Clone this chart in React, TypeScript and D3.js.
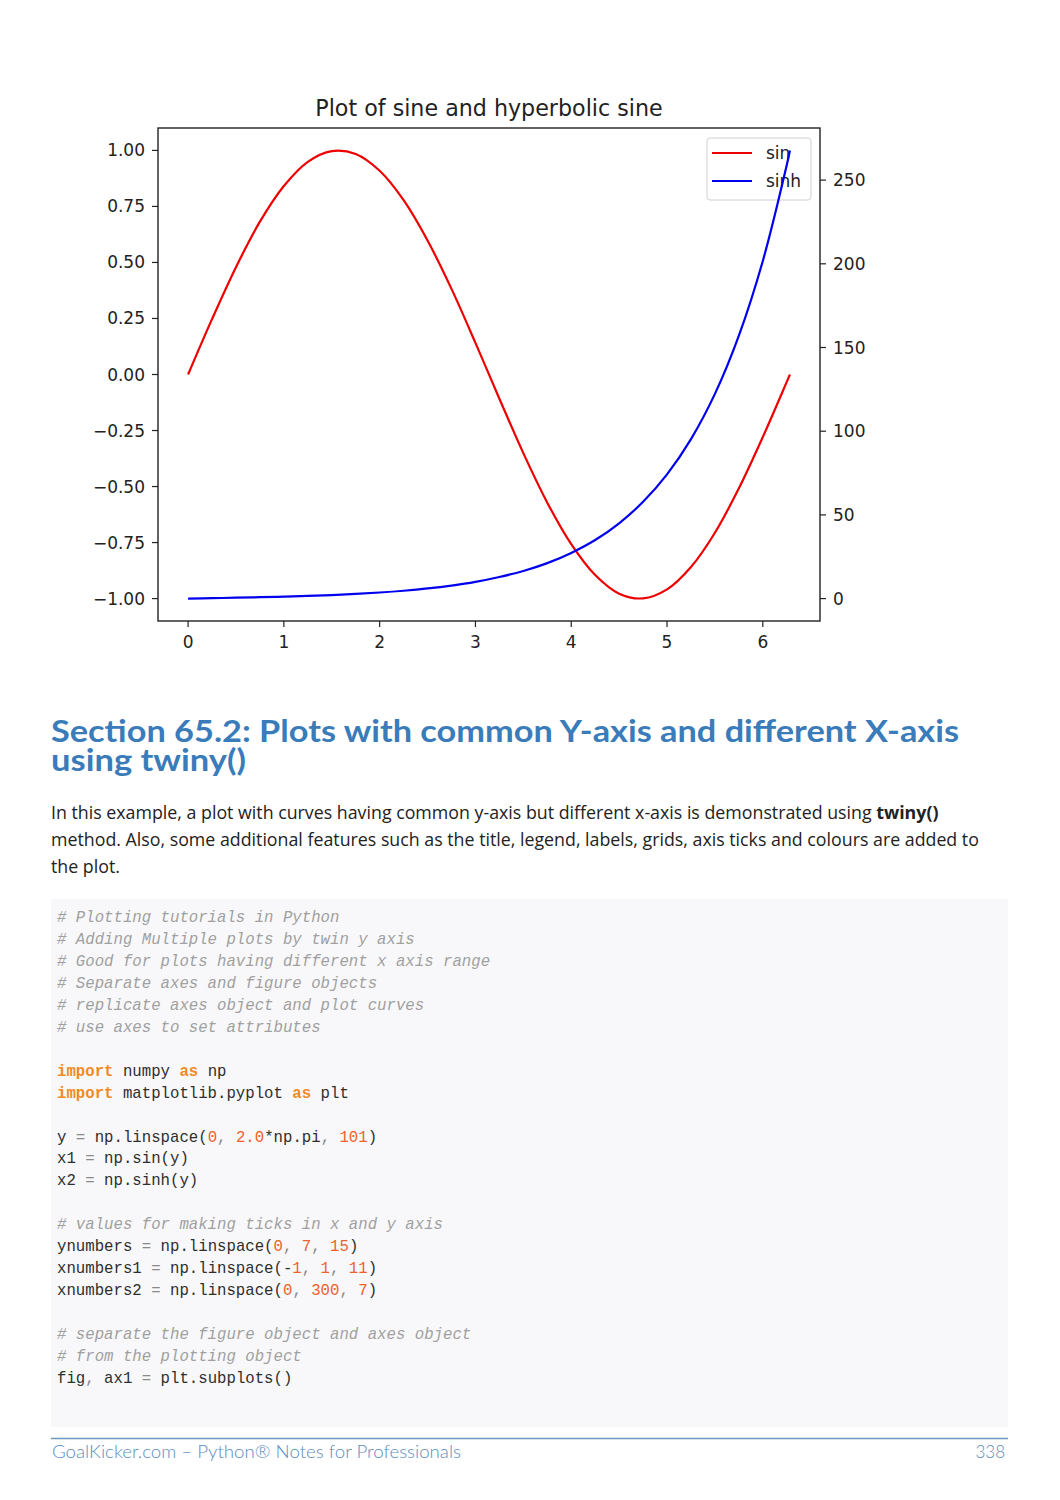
import React from "react";
import * as d3 from "d3";

// ---- data ----
const xs = [0, 0.25, 0.5, 0.75, 1.0, 1.25, 1.5, 1.75, 2.0, 2.25, 2.5, 2.75, 3.0, 3.25, 3.5, 3.75, 4.0, 4.25, 4.5, 4.75, 5.0, 5.25, 5.5, 5.75, 6.0, 6.25, 6.283];
const sinValues = [0, 0.247, 0.479, 0.682, 0.841, 0.949, 0.997, 0.984, 0.909, 0.778, 0.598, 0.382, 0.141, -0.108, -0.351, -0.572, -0.757, -0.895, -0.978, -0.999, -0.959, -0.859, -0.706, -0.508, -0.279, -0.033, 0];
const sinhValues = [0, 0.25, 0.52, 0.82, 1.18, 1.6, 2.13, 2.79, 3.63, 4.69, 6.05, 7.79, 10.0, 12.9, 16.5, 21.2, 27.3, 35.0, 45.0, 57.8, 74.2, 95.3, 122.3, 157.1, 201.7, 259.0, 267.7];
const xTicks = [0, 1, 2, 3, 4, 5, 6];
const leftTicks = [-1.0, -0.75, -0.5, -0.25, 0.0, 0.25, 0.5, 0.75, 1.0];
const rightTicks = [0, 50, 100, 150, 200, 250];
const seriesNames = ["sin", "sinh"];
const seriesColors = ["#ee0000", "#0000ee"];
const chartTitle = "Plot of sine and hyperbolic sine";

const headingLines = ["Section 65.2: Plots with common Y-axis and different X-axis", "using twiny()"];
const bodyLine1 = "In this example, a plot with curves having common y-axis but different x-axis is demonstrated using ";
const bodyLine1Bold = "twiny()";
const bodyLine2 = "method. Also, some additional features such as the title, legend, labels, grids, axis ticks and colours are added to";
const bodyLine3 = "the plot.";

type Tok = [string, string];
const codeLines: Tok[][] = [
  [["# Plotting tutorials in Python", "c"]],
  [["# Adding Multiple plots by twin y axis", "c"]],
  [["# Good for plots having different x axis range", "c"]],
  [["# Separate axes and figure objects", "c"]],
  [["# replicate axes object and plot curves", "c"]],
  [["# use axes to set attributes", "c"]],
  [],
  [["import", "k"], [" numpy ", "p"], ["as", "k"], [" np", "p"]],
  [["import", "k"], [" matplotlib.pyplot ", "p"], ["as", "k"], [" plt", "p"]],
  [],
  [["y ", "p"], ["=", "o"], [" np.linspace(", "p"], ["0", "n"], [", ", "o"], ["2.0", "n"], ["*np.pi", "p"], [", ", "o"], ["101", "n"], [")", "p"]],
  [["x1 ", "p"], ["=", "o"], [" np.sin(y)", "p"]],
  [["x2 ", "p"], ["=", "o"], [" np.sinh(y)", "p"]],
  [],
  [["# values for making ticks in x and y axis", "c"]],
  [["ynumbers ", "p"], ["=", "o"], [" np.linspace(", "p"], ["0", "n"], [", ", "o"], ["7", "n"], [", ", "o"], ["15", "n"], [")", "p"]],
  [["xnumbers1 ", "p"], ["=", "o"], [" np.linspace(-", "p"], ["1", "n"], [", ", "o"], ["1", "n"], [", ", "o"], ["11", "n"], [")", "p"]],
  [["xnumbers2 ", "p"], ["=", "o"], [" np.linspace(", "p"], ["0", "n"], [", ", "o"], ["300", "n"], [", ", "o"], ["7", "n"], [")", "p"]],
  [],
  [["# separate the figure object and axes object", "c"]],
  [["# from the plotting object", "c"]],
  [["fig", "p"], [", ", "o"], ["ax1 ", "p"], ["=", "o"], [" plt.subplots()", "p"]],
];
const footerLeft = "GoalKicker.com – Python® Notes for Professionals";
const footerRight = "338";

const tokColor: Record<string, string> = { c: "#a0a0a0", k: "#f08a24", n: "#f0602c", p: "#2e2e2e", o: "#8a8a8a" };

export default function App() {
  const W = 1060, H = 1500;
  const L = 158, R = 820, T = 128, B = 621;
  const x = d3.scaleLinear().domain([-0.314, 6.597]).range([L, R]);
  const yL = d3.scaleLinear().domain([-1.1, 1.1]).range([B, T]);
  const yR = d3.scaleLinear().domain([-13.387, 281.13]).range([B, T]);
  const lineL = d3.line<number>().x((_, i) => x(xs[i])).y((d) => yL(d)).curve(d3.curveCatmullRom);
  const lineR = d3.line<number>().x((_, i) => x(xs[i])).y((d) => yR(d)).curve(d3.curveCatmullRom);
  const fmtL = (v: number) => (v < 0 ? "\u2212" : "") + Math.abs(v).toFixed(2);
  const tickFont = "DejaVu Sans";
  const lgR = R - 9, lgT = T + 10, lgW = 104, lgH = 62;

  return (
    <div style={{ position: "absolute", left: 0, top: 0 }}>
      <svg width={W} height={H} style={{ display: "block", background: "#fff" }}>
        <rect x={0} y={0} width={W} height={H} fill="#fff" />
        {/* chart title */}
        <text x={(L + R) / 2} y={116} textAnchor="middle" fontFamily={tickFont} fontSize={22.2} fill="#222">{chartTitle}</text>
        {/* sin line */}
        <path d={lineL(sinValues) || ""} fill="none" stroke={seriesColors[0]} strokeWidth={2.2} />
        {/* legend (belongs to first axes) */}
        <g>
          <rect x={lgR - lgW} y={lgT} width={lgW} height={lgH} rx={3} fill="#fff" fillOpacity={0.8} stroke="#d0d0d0" strokeWidth={1} />
          {seriesNames.map((n, i) => (
            <g key={n}>
              <line x1={lgR - lgW + 5} x2={lgR - lgW + 45} y1={lgT + 15 + i * 28} y2={lgT + 15 + i * 28} stroke={seriesColors[i]} strokeWidth={2.2} />
              <text x={lgR - lgW + 59} y={lgT + 21 + i * 28} fontFamily={tickFont} fontSize={17} fill="#222">{n}</text>
            </g>
          ))}
        </g>
        {/* sinh line on twin axis */}
        <path d={lineR(sinhValues) || ""} fill="none" stroke={seriesColors[1]} strokeWidth={2.2} />
        {/* spines */}
        <rect x={L} y={T} width={R - L} height={B - T} fill="none" stroke="#222" strokeWidth={1.4} />
        {/* left ticks */}
        {leftTicks.map((v) => (
          <g key={"l" + v}>
            <line x1={L - 6} x2={L} y1={yL(v)} y2={yL(v)} stroke="#222" strokeWidth={1.2} />
            <text x={L - 13} y={yL(v) + 6} textAnchor="end" fontFamily={tickFont} fontSize={17} fill="#222">{fmtL(v)}</text>
          </g>
        ))}
        {/* right ticks */}
        {rightTicks.map((v) => (
          <g key={"r" + v}>
            <line x1={R} x2={R + 6} y1={yR(v)} y2={yR(v)} stroke="#222" strokeWidth={1.2} />
            <text x={R + 13} y={yR(v) + 6} textAnchor="start" fontFamily={tickFont} fontSize={17} fill="#222">{v}</text>
          </g>
        ))}
        {/* bottom ticks */}
        {xTicks.map((v) => (
          <g key={"b" + v}>
            <line x1={x(v)} x2={x(v)} y1={B} y2={B + 6} stroke="#222" strokeWidth={1.2} />
            <text x={x(v)} y={B + 27} textAnchor="middle" fontFamily={tickFont} fontSize={17} fill="#222">{v}</text>
          </g>
        ))}

        {/* heading */}
        <text x={51} y={742} fontFamily="Lato" fontWeight={700} fontSize={30} fill="#3a7cb9" textLength={908} lengthAdjust="spacingAndGlyphs">{headingLines[0]}</text>
        <text x={51} y={771} fontFamily="Lato" fontWeight={700} fontSize={30} fill="#3a7cb9" textLength={195} lengthAdjust="spacingAndGlyphs">{headingLines[1]}</text>

        {/* body */}
        <text x={51} y={819} fontFamily="Open Sans" fontSize={17.8} fill="#222" style={{ whiteSpace: "pre" }}>
          {bodyLine1}<tspan fontWeight={700}>{bodyLine1Bold}</tspan>
        </text>
        <text x={51} y={846} fontFamily="Open Sans" fontSize={17.8} fill="#222">{bodyLine2}</text>
        <text x={51} y={873} fontFamily="Open Sans" fontSize={17.8} fill="#222">{bodyLine3}</text>

        {/* code block */}
        <rect x={51} y={899} width={957} height={528} fill="#f8f8fa" />
        {codeLines.map((toks, i) => (
          <text key={"c" + i} x={57} y={922 + i * 21.95} fontFamily="Liberation Mono" fontSize={15.7} style={{ whiteSpace: "pre" }}>
            {toks.map((t, j) => (
              <tspan key={j} fill={tokColor[t[1]]} fontStyle={t[1] === "c" ? "italic" : "normal"} fontWeight={t[1] === "k" ? 700 : 400}>{t[0]}</tspan>
            ))}
          </text>
        ))}

        {/* footer */}
        <line x1={51} x2={1008} y1={1438.5} y2={1438.5} stroke="#6e98c4" strokeWidth={1.5} />
        <text x={52} y={1458} fontFamily="Lato" fontWeight={300} fontSize={17} fill="#5a8cc0" textLength={409} lengthAdjust="spacingAndGlyphs">{footerLeft}</text>
        <text x={1005} y={1458} textAnchor="end" fontFamily="Lato" fontWeight={300} fontSize={17} fill="#5a8cc0">{footerRight}</text>
      </svg>
    </div>
  );
}
